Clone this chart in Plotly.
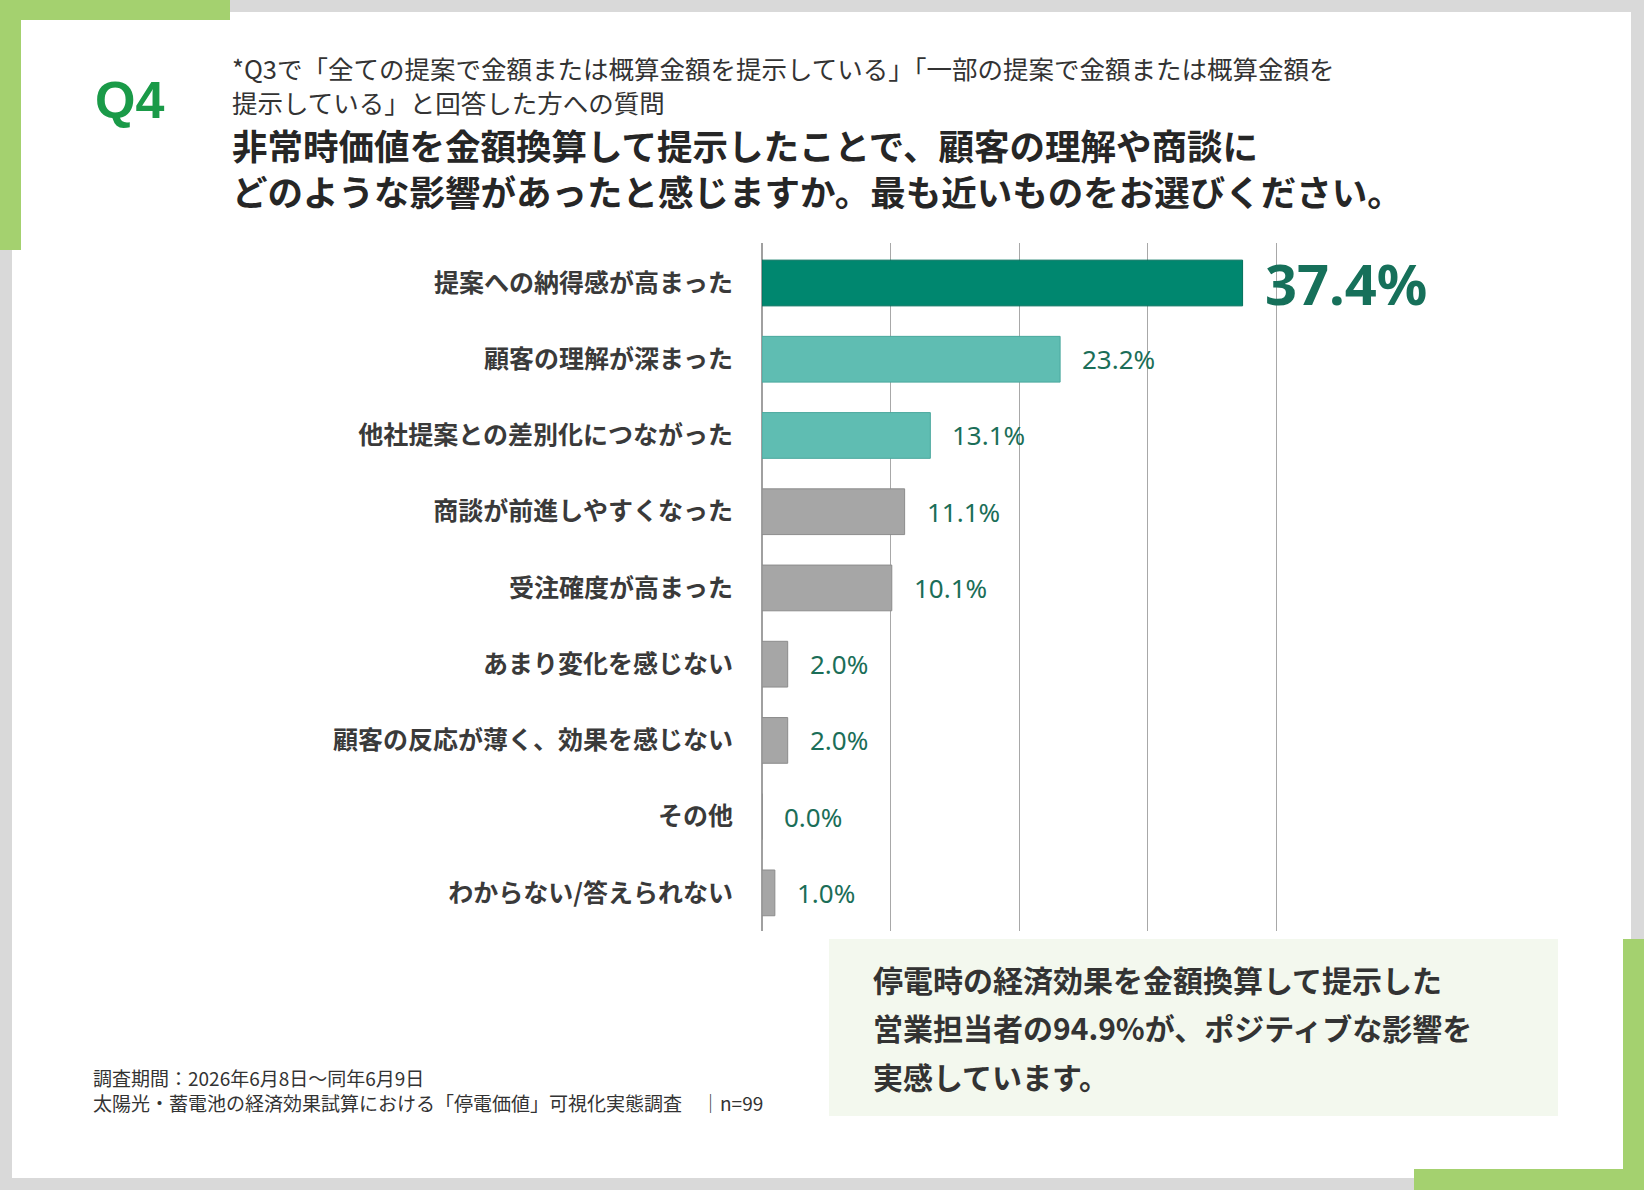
import plotly.graph_objects as go

W, H = 1644, 1190

categories = [
    "提案への納得感が高まった",
    "顧客の理解が深まった",
    "他社提案との差別化につながった",
    "商談が前進しやすくなった",
    "受注確度が高まった",
    "あまり変化を感じない",
    "顧客の反応が薄く、効果を感じない",
    "その他",
    "わからない/答えられない",
]
values = [37.4, 23.2, 13.1, 11.1, 10.1, 2.0, 2.0, 0.0, 1.0]
bar_colors = ["#00876f", "#5fbdb2", "#5fbdb2", "#a6a6a6", "#a6a6a6",
              "#a6a6a6", "#a6a6a6", "#a6a6a6", "#a6a6a6"]
line_colors = ["#00705c", "#4aa89d", "#4aa89d", "#8c8c8c", "#8c8c8c",
               "#8c8c8c", "#8c8c8c", "#8c8c8c", "#8c8c8c"]
x_ticks = [0, 10, 20, 30, 40]

q_label = "Q4"
sub_lines = [
    "*Q3で「全ての提案で金額または概算金額を提示している」「一部の提案で金額または概算金額を",
    "提示している」と回答した方への質問",
]
title_lines = [
    "非常時価値を金額換算して提示したことで、顧客の理解や商談に",
    "どのような影響があったと感じますか。最も近いものをお選びください。",
]
footer_lines = [
    "調査期間：2026年6月8日～同年6月9日",
    "太陽光・蓄電池の経済効果試算における「停電価値」可視化実態調査　│n=99",
]
callout_lines = [
    "停電時の経済効果を金額換算して提示した",
    "営業担当者の94.9%が、ポジティブな影響を",
    "実感しています。",
]

CJK = "Noto Sans CJK JP"


def fx(x):
    return x / W


def fy(y):
    return 1 - y / H


fig = go.Figure()
fig.add_trace(go.Bar(
    y=categories,
    x=values,
    orientation="h",
    marker=dict(color=bar_colors, line=dict(color=line_colors, width=1)),
    hoverinfo="skip",
))

# value labels
annotations = []
for i, (c, v) in enumerate(zip(categories, values)):
    if i == 0:
        font = dict(family="Noto Sans", size=56, color="#16705a")
        text = f"<b>{v:.1f}%</b>"
    else:
        font = dict(family="Noto Sans", size=26, color="#1b6e58")
        text = f"{v:.1f}%"
    annotations.append(dict(
        x=v, y=c, xref="x", yref="y", text=text, showarrow=False,
        xanchor="left", yanchor="middle", xshift=20, font=font,
    ))

# header texts
annotations.append(dict(
    x=fx(129), y=fy(100), xref="paper", yref="paper", text=f"<b>{q_label}</b>",
    showarrow=False, xanchor="center", yanchor="middle",
    font=dict(family="Liberation Sans", size=52, color="#1a9a48"),
))
for yy, t in zip([67, 101], sub_lines):
    annotations.append(dict(
        x=fx(231), y=fy(yy), xref="paper", yref="paper", text=t,
        showarrow=False, xanchor="left", yanchor="middle", borderpad=0,
        font=dict(family=CJK, size=25.5, color="#333333"),
    ))
annotations.append(dict(
    x=fx(231), y=fy(168), xref="paper", yref="paper",
    text="<br>".join(f"<b>{t}</b>" for t in title_lines),
    showarrow=False, xanchor="left", yanchor="middle", align="left", borderpad=0,
    font=dict(family=CJK, size=35.5, color="#262626"),
))
annotations.append(dict(
    x=fx(92), y=fy(1089.5), xref="paper", yref="paper", text="<br>".join(footer_lines),
    showarrow=False, xanchor="left", yanchor="middle", align="left", borderpad=0,
    font=dict(family=CJK, size=19, color="#333333"),
))
for yy, t in zip([979, 1027, 1076], callout_lines):
    annotations.append(dict(
        x=fx(872), y=fy(yy), xref="paper", yref="paper", text=f"<b>{t}</b>",
        showarrow=False, xanchor="left", yanchor="middle", borderpad=0,
        font=dict(family=CJK, size=30, color="#333333"),
    ))

green = "#a4d16f"
shapes = [
    dict(type="rect", xref="paper", yref="paper", x0=fx(12), x1=fx(1631),
         y0=fy(1178), y1=fy(12), fillcolor="#ffffff", line=dict(width=0), layer="below"),
    dict(type="rect", xref="paper", yref="paper", x0=fx(0), x1=fx(230),
         y0=fy(20), y1=fy(0), fillcolor=green, line=dict(width=0), layer="below"),
    dict(type="rect", xref="paper", yref="paper", x0=fx(0), x1=fx(21),
         y0=fy(250), y1=fy(0), fillcolor=green, line=dict(width=0), layer="below"),
    dict(type="rect", xref="paper", yref="paper", x0=fx(1623), x1=fx(1644),
         y0=fy(1190), y1=fy(939), fillcolor=green, line=dict(width=0), layer="below"),
    dict(type="rect", xref="paper", yref="paper", x0=fx(1414), x1=fx(1644),
         y0=fy(1190), y1=fy(1169), fillcolor=green, line=dict(width=0), layer="below"),
    dict(type="rect", xref="paper", yref="paper", x0=fx(829), x1=fx(1558),
         y0=fy(1116), y1=fy(939), fillcolor="#f3f8ee", line=dict(width=0), layer="below"),
]

x_max = 40.3
px_per_unit = (1276 - 762) / 40

fig.update_layout(
    width=W, height=H,
    margin=dict(l=0, r=0, t=0, b=0, pad=0),
    paper_bgcolor="#d9d9d9",
    plot_bgcolor="rgba(0,0,0,0)",
    showlegend=False,
    bargap=0.40,
    annotations=annotations,
    shapes=shapes,
    xaxis=dict(
        domain=[fx(762), fx(762 + px_per_unit * x_max)],
        range=[0, x_max],
        tickvals=x_ticks,
        showticklabels=False,
        showgrid=True, gridcolor="#a8a8a8", gridwidth=1,
        zeroline=True, zerolinecolor="#a0a0a0", zerolinewidth=1.5,
        showline=False, fixedrange=True,
    ),
    yaxis=dict(
        domain=[fy(931), fy(243)],
        autorange="reversed",
        showgrid=False, zeroline=False, showline=False,
        ticks="", ticklabelstandoff=28,
        tickfont=dict(family=CJK, size=25, color="#3a3a3a", weight="bold"),
        fixedrange=True,
    ),
    font=dict(family=CJK),
)

fig.write_html(
    "out.html",
    config={"displayModeBar": False},
    post_script="document.body.style.margin='0px';document.body.style.overflow='hidden';",
)
